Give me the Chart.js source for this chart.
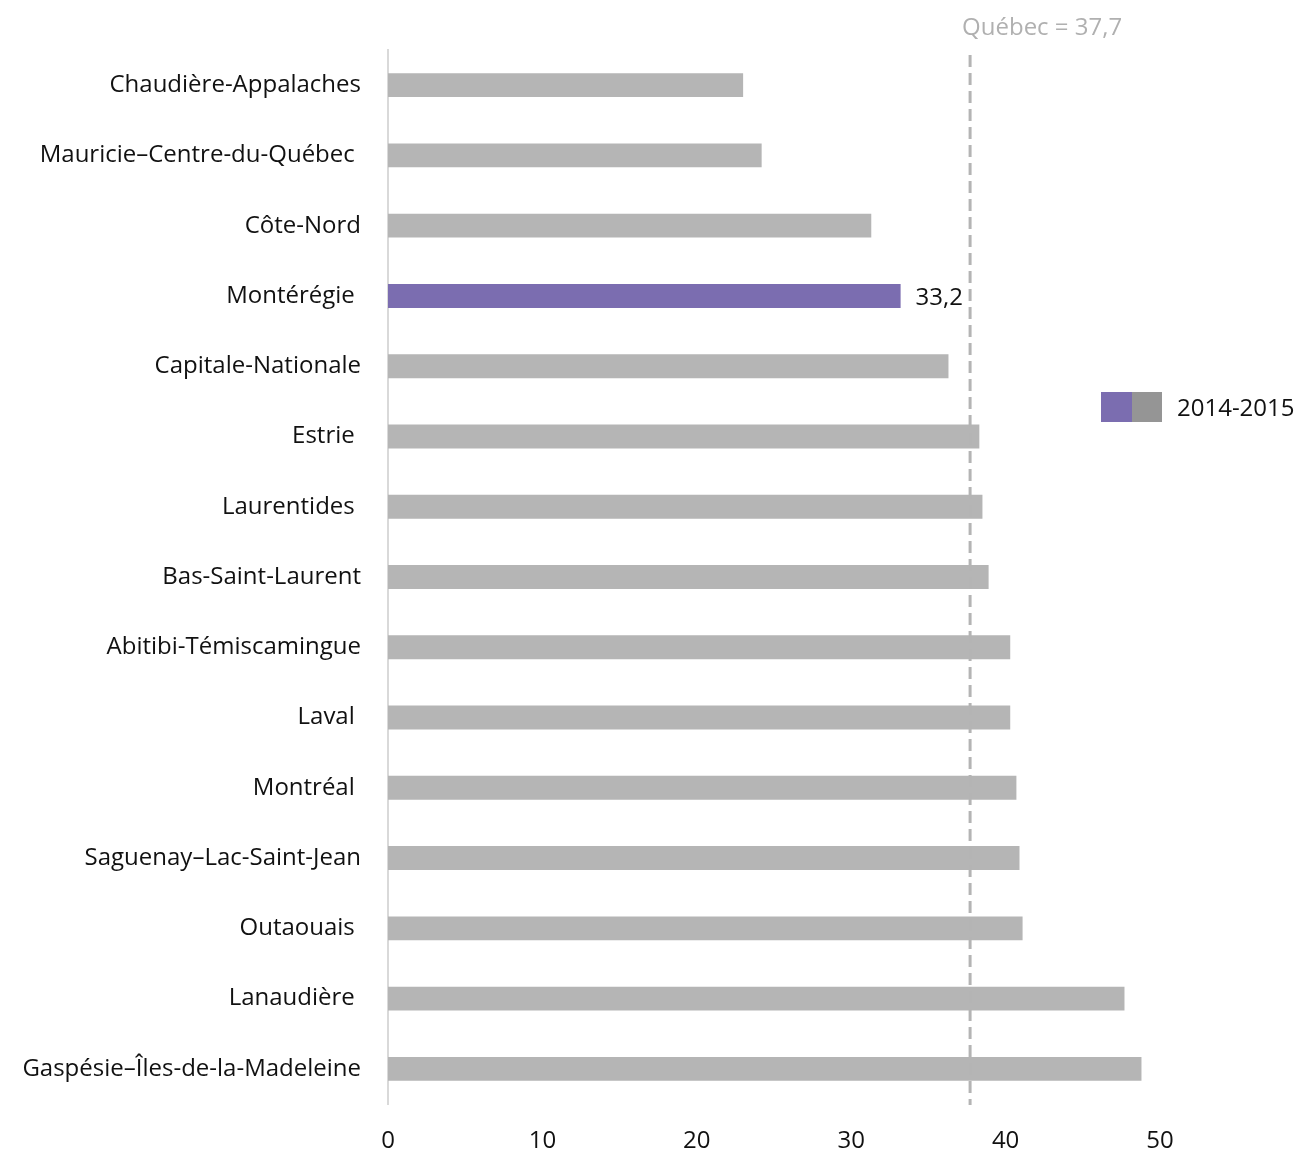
<!DOCTYPE html>
<html>
<head>
<meta charset="utf-8">
<script src="https://cdn.jsdelivr.net/npm/chart.js@4/dist/chart.umd.min.js"></script>
<style>
  html, body { margin: 0; padding: 0; background: #fff; }
  #wrap { width: 1300px; height: 1152px; }
</style>
</head>
<body>
<div id="wrap"><canvas id="c" width="1300" height="1152"></canvas></div>
<script>
// Regions (trailing spaces kept as in the source labels)
const regions = [
  "Chaudière-Appalaches",
  "Mauricie–Centre-du-Québec ",
  "Côte-Nord",
  "Montérégie ",
  "Capitale-Nationale",
  "Estrie ",
  "Laurentides ",
  "Bas-Saint-Laurent",
  "Abitibi-Témiscamingue",
  "Laval ",
  "Montréal ",
  "Saguenay–Lac-Saint-Jean",
  "Outaouais ",
  "Lanaudière ",
  "Gaspésie–Îles-de-la-Madeleine"
];
const values2014 = [23.0, 24.2, 31.3, 33.2, 36.3, 38.3, 38.5, 38.9, 40.3, 40.3, 40.7, 40.9, 41.1, 47.7, 48.8];
const highlightRegion = "Montérégie";
const quebecValue = 37.7;
const quebecLabel = "Québec = 37,7";
const seriesLabel = "2014-2015";
const xTicks = [0, 10, 20, 30, 40, 50];

const FONT = "'Open Sans', sans-serif";
const FSIZE = 24;
const PURPLE = "#7b6db0";
const GREY = "#b5b5b5";

const barColors = regions.map(r => r.trim() === highlightRegion ? PURPLE : GREY);

const overlay = {
  id: "overlay",
  afterDatasetsDraw(chart) {
    const ctx = chart.ctx;
    const x = chart.scales.x.getPixelForValue(quebecValue);
    const area = chart.chartArea;
    // average line
    ctx.save();
    ctx.strokeStyle = "#b4b4b4";
    ctx.lineWidth = 3;
    ctx.setLineDash([12, 6]);
    ctx.beginPath();
    ctx.moveTo(x, area.top + 5);
    ctx.lineTo(x, area.bottom + 1);
    ctx.stroke();
    ctx.setLineDash([]);
    ctx.fillStyle = "#b0b0b0";
    ctx.font = FSIZE + "px " + FONT;
    ctx.textAlign = "left";
    ctx.textBaseline = "middle";
    ctx.fillText(quebecLabel, x - 8, 28);

    // value label on highlighted bar
    const meta = chart.getDatasetMeta(0);
    regions.forEach((r, i) => {
      if (r.trim() !== highlightRegion) return;
      const el = meta.data[i];
      ctx.fillStyle = "#111";
      ctx.font = FSIZE + "px " + FONT;
      ctx.textAlign = "left";
      ctx.textBaseline = "middle";
      ctx.fillText(String(values2014[i]).replace(".", ","), el.x + 15, el.y + 2);
    });

    // legend: two-tone swatch + label
    ctx.fillStyle = PURPLE;
    ctx.fillRect(1101, 392, 31, 30);
    ctx.fillStyle = "#959595";
    ctx.fillRect(1132, 392, 30, 30);
    ctx.fillStyle = "#111";
    ctx.font = FSIZE + "px " + FONT;
    ctx.textAlign = "left";
    ctx.textBaseline = "middle";
    ctx.fillText(seriesLabel, 1177, 409);
    ctx.restore();
  }
};

new Chart(document.getElementById("c"), {
  type: "bar",
  data: {
    labels: regions,
    datasets: [{
      label: seriesLabel,
      data: values2014,
      backgroundColor: barColors,
      borderWidth: 0,
      barPercentage: 0.34,
      categoryPercentage: 1.0
    }]
  },
  options: {
    indexAxis: "y",
    responsive: false,
    animation: false,
    layout: { padding: { top: 50, right: 140, left: 0, bottom: 0 } },
    plugins: {
      legend: { display: false },
      tooltip: { enabled: false }
    },
    scales: {
      x: {
        min: 0, max: 50,
        afterBuildTicks(scale) { scale.ticks = xTicks.map(v => ({ value: v })); },
        afterFit(scale) { scale.height = 48; },
        grid: { display: false, drawTicks: false },
        border: { display: false },
        ticks: { color: "#111", font: { family: FONT, size: FSIZE }, padding: 23 }
      },
      y: {
        afterFit(scale) { scale.width = 388; },
        grid: { display: false, drawTicks: false },
        border: { display: true, color: "#d9d9d9", width: 2 },
        ticks: { color: "#111", font: { family: FONT, size: FSIZE }, padding: 27, autoSkip: false }
      }
    }
  },
  plugins: [overlay]
});
</script>
</body>
</html>
